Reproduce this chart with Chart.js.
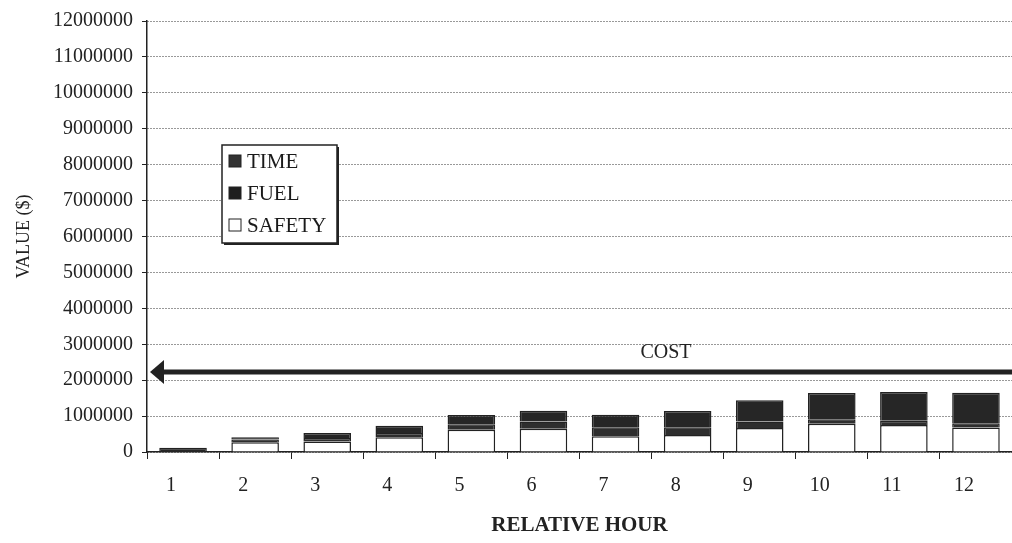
<!DOCTYPE html>
<html>
<head>
<meta charset="utf-8">
<script src="https://cdn.jsdelivr.net/npm/chart.js@4/dist/chart.umd.min.js"></script>
<style>
  html, body { margin: 0; padding: 0; background: #fff; overflow: hidden; }
  #wrap { width: 1012px; height: 543px; position: relative; }
</style>
</head>
<body>
<div id="wrap"><canvas id="chart"></canvas></div>
<script>
const hours = ['1', '2', '3', '4', '5', '6', '7', '8', '9', '10', '11', '12'];
const safety = [10000, 270000, 290000, 410000, 620000, 650000, 440000, 470000, 670000, 790000, 750000, 680000];
const time = [20000, 80000, 100000, 120000, 150000, 200000, 250000, 220000, 180000, 120000, 120000, 120000];
const fuel = [90000, 60000, 140000, 200000, 260000, 300000, 350000, 450000, 590000, 730000, 800000, 850000];
const yTicks = [0, 1000000, 2000000, 3000000, 4000000, 5000000, 6000000, 7000000, 8000000, 9000000, 10000000, 11000000, 12000000];
const costLevel = 2230000;
const costLabelLevel = 2760000;

const serif = '"Liberation Serif", "DejaVu Serif", serif';

// legend box drawn inside the plot, plus the COST arrow
const overlay = {
  id: 'overlay',
  afterDatasetsDraw(chart) {
    const { ctx, chartArea, scales } = chart;
    const y = scales.y.getPixelForValue(costLevel);
    ctx.save();
    ctx.fillStyle = '#222';
    ctx.strokeStyle = '#222';
    ctx.lineWidth = 5;
    ctx.beginPath();
    ctx.moveTo(chartArea.right, y);
    ctx.lineTo(chartArea.left + 14, y);
    ctx.stroke();
    ctx.beginPath();
    ctx.moveTo(chartArea.left + 3, y);
    ctx.lineTo(chartArea.left + 17, y - 12);
    ctx.lineTo(chartArea.left + 17, y + 12);
    ctx.closePath();
    ctx.fill();

    ctx.font = '20px ' + serif;
    ctx.textAlign = 'center';
    ctx.textBaseline = 'middle';
    ctx.fillText('COST', chartArea.left + chartArea.width * 0.6, scales.y.getPixelForValue(costLabelLevel));

    // legend
    const lx = chartArea.left + 75;
    const ly = chartArea.top + 124;
    ctx.fillStyle = '#fff';
    ctx.fillRect(lx, ly, 115, 98);
    ctx.lineWidth = 1.5;
    ctx.strokeRect(lx, ly, 115, 98);
    ctx.lineWidth = 2;
    ctx.beginPath();
    ctx.moveTo(lx + 2, ly + 99);
    ctx.lineTo(lx + 116, ly + 99);
    ctx.lineTo(lx + 116, ly + 2);
    ctx.stroke();
    const items = [
      { label: 'TIME', fill: '#333' },
      { label: 'FUEL', fill: '#1e1e1e' },
      { label: 'SAFETY', fill: '#fff' },
    ];
    ctx.font = '21px ' + serif;
    ctx.textAlign = 'left';
    items.forEach((it, i) => {
      const cy = ly + 16 + i * 32;
      ctx.fillStyle = it.fill;
      ctx.fillRect(lx + 7, cy - 6, 12, 12);
      ctx.lineWidth = 1;
      ctx.strokeStyle = '#222';
      ctx.strokeRect(lx + 7, cy - 6, 12, 12);
      ctx.fillStyle = '#1a1a1a';
      ctx.fillText(it.label, lx + 25, cy + 1);
    });
    ctx.restore();
  },
};

new Chart(document.getElementById('chart'), {
  type: 'bar',
  data: {
    labels: hours,
    datasets: [
      { label: 'SAFETY', data: safety, backgroundColor: '#fff' },
      { label: 'TIME', data: time, backgroundColor: '#2e2e2e' },
      { label: 'FUEL', data: fuel, backgroundColor: '#262626' },
    ].map((d) => ({
      ...d,
      borderColor: '#222',
      borderWidth: 1.5,
      barPercentage: 0.66,
      categoryPercentage: 1,
    })),
  },
  options: {
    responsive: true,
    maintainAspectRatio: false,
    animation: false,
    layout: { padding: { top: 19, right: -5, left: 0, bottom: 0 } },
    plugins: {
      legend: { display: false },
      tooltip: { enabled: false },
    },
    scales: {
      x: {
        stacked: true,
        afterFit: (s) => { s.height = 91; },
        border: { color: '#222', width: 1.5 },
        grid: { drawOnChartArea: false, color: '#222', tickLength: 7, offset: true },
        ticks: { color: '#222', font: { family: serif, size: 20 }, padding: 15, labelOffset: -12, maxRotation: 0 },
        title: { display: true, text: 'RELATIVE HOUR', color: '#222', font: { family: serif, size: 21, weight: 'bold' }, padding: { top: 9, bottom: 5 } },
      },
      y: {
        stacked: true,
        min: 0,
        max: 12000000,
        afterFit: (s) => { s.width = 147; },
        afterBuildTicks: (s) => { s.ticks = yTicks.map((v) => ({ value: v })); },
        border: { color: '#222', width: 1.5, dash: [1, 2] },
        grid: { color: '#333', tickLength: 5, tickColor: '#222', tickBorderDash: [] },
        ticks: { color: '#222', font: { family: serif, size: 20 }, padding: 9, callback: (v) => String(v) },
        title: { display: true, text: 'VALUE ($)', color: '#222', font: { family: serif, size: 18 }, padding: { top: 13, bottom: 0 } },
      },
    },
  },
  plugins: [overlay],
});
</script>
</body>
</html>
